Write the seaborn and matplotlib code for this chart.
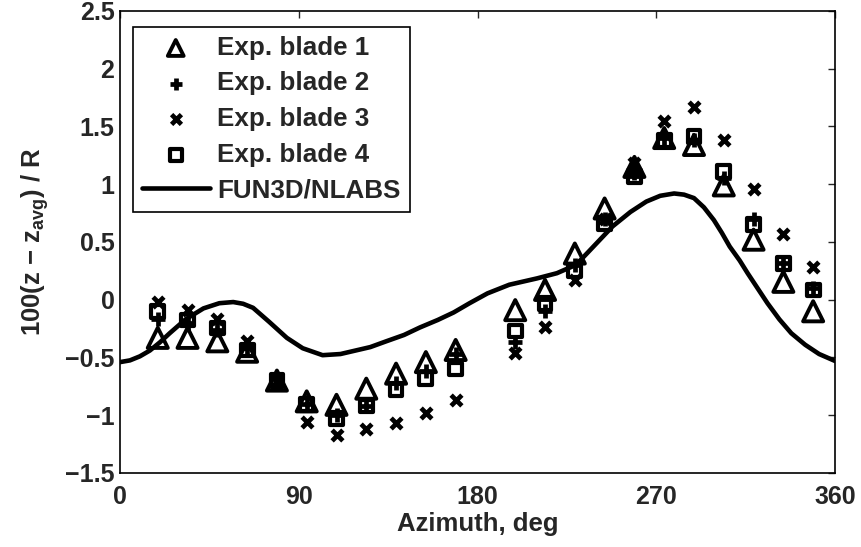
import matplotlib
matplotlib.use("Agg")
import matplotlib.pyplot as plt
import seaborn as sns
import numpy as np

# ---- data ----
azimuth = [19, 34, 49, 64, 79, 94, 109, 124, 139, 154, 169,
           199, 214, 229, 244, 259, 274, 289, 304, 319, 334, 349]
blade1 = [-0.33, -0.33, -0.36, -0.45, -0.70, -0.88, -0.91, -0.77, -0.64, -0.54, -0.435,
          -0.09, 0.085, 0.40, 0.79, 1.15, 1.40, 1.34, 0.99, 0.52, 0.155, -0.10]
blade2 = [-0.17, -0.20, -0.26, -0.42, -0.69, -0.90, -1.00, -0.92, -0.72, -0.62, -0.47,
          -0.37, -0.10, 0.30, 0.70, 1.10, 1.40, 1.38, 1.05, 0.70, 0.32, 0.10]
blade3 = [-0.02, -0.09, -0.17, -0.36, -0.70, -1.055, -1.17, -1.12, -1.065, -0.98, -0.87,
          -0.46, -0.24, 0.17, 0.70, 1.18, 1.55, 1.67, 1.38, 0.955, 0.57, 0.28]
blade4 = [-0.10, -0.175, -0.245, -0.435, -0.70, -0.91, -1.03, -0.92, -0.78, -0.68, -0.60,
          -0.27, -0.03, 0.25, 0.66, 1.065, 1.38, 1.41, 1.11, 0.65, 0.315, 0.085]

cfd_az = [0, 5, 10, 15, 20, 25, 33, 42, 50, 57, 62, 67, 75, 84, 92, 102, 111, 121, 126,
          134, 143, 151, 160, 168, 176, 185, 196, 210, 220, 228, 232, 240, 248, 257, 265,
          272, 279, 284, 289, 294, 299, 303, 307, 312, 316, 321, 326, 332, 338, 345, 352, 360]
cfd_z = [-0.54, -0.525, -0.49, -0.44, -0.37, -0.29, -0.17, -0.075, -0.03, -0.02, -0.035,
         -0.07, -0.19, -0.33, -0.42, -0.48, -0.47, -0.43, -0.41, -0.36, -0.305, -0.24,
         -0.175, -0.11, -0.03, 0.055, 0.13, 0.185, 0.23, 0.29, 0.345, 0.49, 0.635, 0.76,
         0.85, 0.90, 0.92, 0.91, 0.88, 0.80, 0.69, 0.58, 0.46, 0.34, 0.23, 0.10, -0.03,
         -0.17, -0.29, -0.39, -0.47, -0.53]

xticks = [0, 90, 180, 270, 360]
yticks = [-1.5, -1, -0.5, 0, 0.5, 1, 1.5, 2, 2.5]
ytick_labels = ["\u22121.5", "\u22121", "\u22120.5", "0", "0.5", "1", "1.5", "2", "2.5"]

sns.set_style("white")
plt.rcParams['font.family'] = ['Liberation Sans', 'DejaVu Sans']
plt.rcParams['font.weight'] = 'bold'
plt.rcParams['font.size'] = 18

fig = plt.figure(figsize=(8.61, 5.47), dpi=100)
ax = fig.add_axes([0.1394, 0.1353, 0.8304, 0.8446])

sns.scatterplot(x=azimuth, y=blade1, ax=ax, marker='^', s=210, facecolor='none',
                edgecolor='black', linewidth=2.8, label='Exp. blade 1', zorder=3)
sns.scatterplot(x=azimuth, y=blade2, ax=ax, marker='+', s=90, color='black',
                linewidth=3.4, label='Exp. blade 2', zorder=3)
sns.scatterplot(x=azimuth, y=blade3, ax=ax, marker='x', s=60, color='black',
                linewidth=3.4, label='Exp. blade 3', zorder=3)
sns.scatterplot(x=azimuth, y=blade4, ax=ax, marker='s', s=85, facecolor='none',
                edgecolor='black', linewidth=3.0, label='Exp. blade 4', zorder=3)
sns.lineplot(x=cfd_az, y=cfd_z, ax=ax, color='black', linewidth=3.3,
             label='FUN3D/NLABS', zorder=4, sort=False)

ax.set_xlim(0, 360)
ax.set_ylim(-1.5, 2.5)
ax.set_xticks(xticks)
ax.set_xticklabels([str(t) for t in xticks])
ax.set_yticks(yticks)
ax.set_yticklabels(ytick_labels)
ax.tick_params(direction='in', length=5, width=1, top=True, right=True,
               labelsize=18)
ax.tick_params(axis='x', pad=9)
ax.tick_params(axis='y', pad=4)
for sp in ax.spines.values():
    sp.set_visible(True)
    sp.set_color('black')
    sp.set_linewidth(1.2)

ax.set_xlabel("Azimuth, deg", fontsize=18.5, fontweight='bold', labelpad=2)
ax.set_ylabel("100(z \u2212 z$_\\mathregular{avg}$) / R", fontsize=18.5,
              fontweight='bold', labelpad=10)

leg = ax.legend(loc='upper left', bbox_to_anchor=(0.018, 0.966), borderaxespad=0,
                fancybox=False, frameon=True, edgecolor='black', framealpha=1,
                labelspacing=0.45, handlelength=2.6, handletextpad=0.3,
                borderpad=0.35, prop={'weight': 'bold', 'size': 18.7})
leg.get_frame().set_linewidth(1.2)
leg_sizes = [130, 70, 50, 70]
for h, sz in zip(leg.legend_handles, leg_sizes):
    try:
        h.set_sizes([sz])
    except Exception:
        pass

fig.savefig("out.png", dpi=100)
